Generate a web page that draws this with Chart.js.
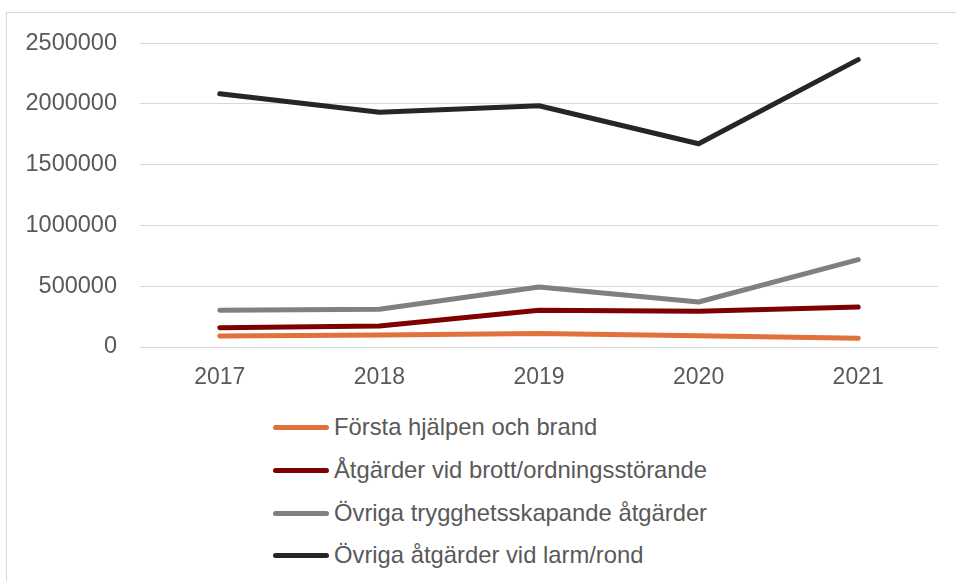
<!DOCTYPE html>
<html>
<head>
<meta charset="utf-8">
<script src="https://cdn.jsdelivr.net/npm/chart.js@4"></script>
<style>
  html, body { margin: 0; padding: 0; background: #fff; overflow: hidden; width: 956px; height: 581px; }
  #frame { position: absolute; left: 6px; top: 12px; width: 960px; height: 600px; border-left: 1px solid #d9d9d9; border-top: 1px solid #d9d9d9; }
  #wrap { position: absolute; left: 0; top: -7px; width: 950px; height: 407px; }
  #legend { position: absolute; left: 0; top: 0; width: 900px; height: 200px; font-family: "Liberation Sans", Arial, sans-serif; font-size: 23.8px; color: #595959; }
  .swatch { position: absolute; height: 5px; border-radius: 3px; }
  .lbl { position: absolute; line-height: 28px; white-space: nowrap; }
</style>
</head>
<body>
<div id="frame">
  <div id="wrap"><canvas id="c"></canvas></div>
  <div id="legend"></div>
</div>
<script>
const years = ["2017", "2018", "2019", "2020", "2021"];
const seriesNames = [
  "Första hjälpen och brand",
  "Åtgärder vid brott/ordningsstörande",
  "Övriga trygghetsskapande åtgärder",
  "Övriga åtgärder vid larm/rond"
];
const forstaHjalpen = [90000, 98000, 112000, 92000, 71000];
const brottOrdning = [158000, 172000, 302000, 294000, 329000];
const ovrigaTrygghet = [302000, 310000, 493000, 370000, 719000];
const larmRond = [2083000, 1931000, 1985000, 1672000, 2364000];
const seriesColors = ["#E2703A", "#7F0000", "#808080", "#262626"];
const yTicks = [0, 500000, 1000000, 1500000, 2000000, 2500000];

const allData = [forstaHjalpen, brottOrdning, ovrigaTrygghet, larmRond];
const FONT = "'Liberation Sans', Arial, sans-serif";

const datasets = allData.map((d, i) => ({
  label: seriesNames[i],
  data: d,
  borderColor: seriesColors[i],
  backgroundColor: seriesColors[i],
  borderWidth: 5,
  borderCapStyle: 'round',
  borderJoinStyle: 'round',
  pointRadius: 0,
  tension: 0,
  fill: false
}));

new Chart(document.getElementById('c'), {
  type: 'line',
  data: { labels: years, datasets: datasets },
  options: {
    responsive: true,
    maintainAspectRatio: false,
    animation: false,
    layout: { padding: { top: 21, right: 19, left: 0, bottom: 0 } },
    plugins: { legend: { display: false }, tooltip: { enabled: false } },
    scales: {
      x: {
        offset: true,
        grid: { display: false, drawTicks: false },
        border: { display: false },
        ticks: { color: '#595959', font: { family: FONT, size: 23 }, padding: 17, maxRotation: 0 },
        afterFit: s => { s.height = 66; }
      },
      y: {
        min: yTicks[0],
        max: yTicks[yTicks.length - 1],
        afterBuildTicks: s => { s.ticks = yTicks.map(v => ({ value: v })); },
        grid: { color: '#d9d9d9', lineWidth: 1, drawTicks: false },
        border: { display: false },
        ticks: { color: '#595959', font: { family: FONT, size: 23.5 }, padding: 23, callback: v => String(v) },
        afterFit: s => { s.width = 133; }
      }
    }
  }
});

const legend = document.getElementById('legend');
const rowCenters = [414, 457, 500, 542];
seriesNames.forEach((name, i) => {
  const sw = document.createElement('div');
  sw.className = 'swatch';
  sw.style.left = '266px';
  sw.style.top = (rowCenters[i] - 2.5) + 'px';
  sw.style.width = '56px';
  sw.style.background = seriesColors[i];
  legend.appendChild(sw);
  const t = document.createElement('div');
  t.className = 'lbl';
  t.style.left = '327px';
  t.style.top = (rowCenters[i] - 14) + 'px';
  t.textContent = name;
  legend.appendChild(t);
});
</script>
</body>
</html>
